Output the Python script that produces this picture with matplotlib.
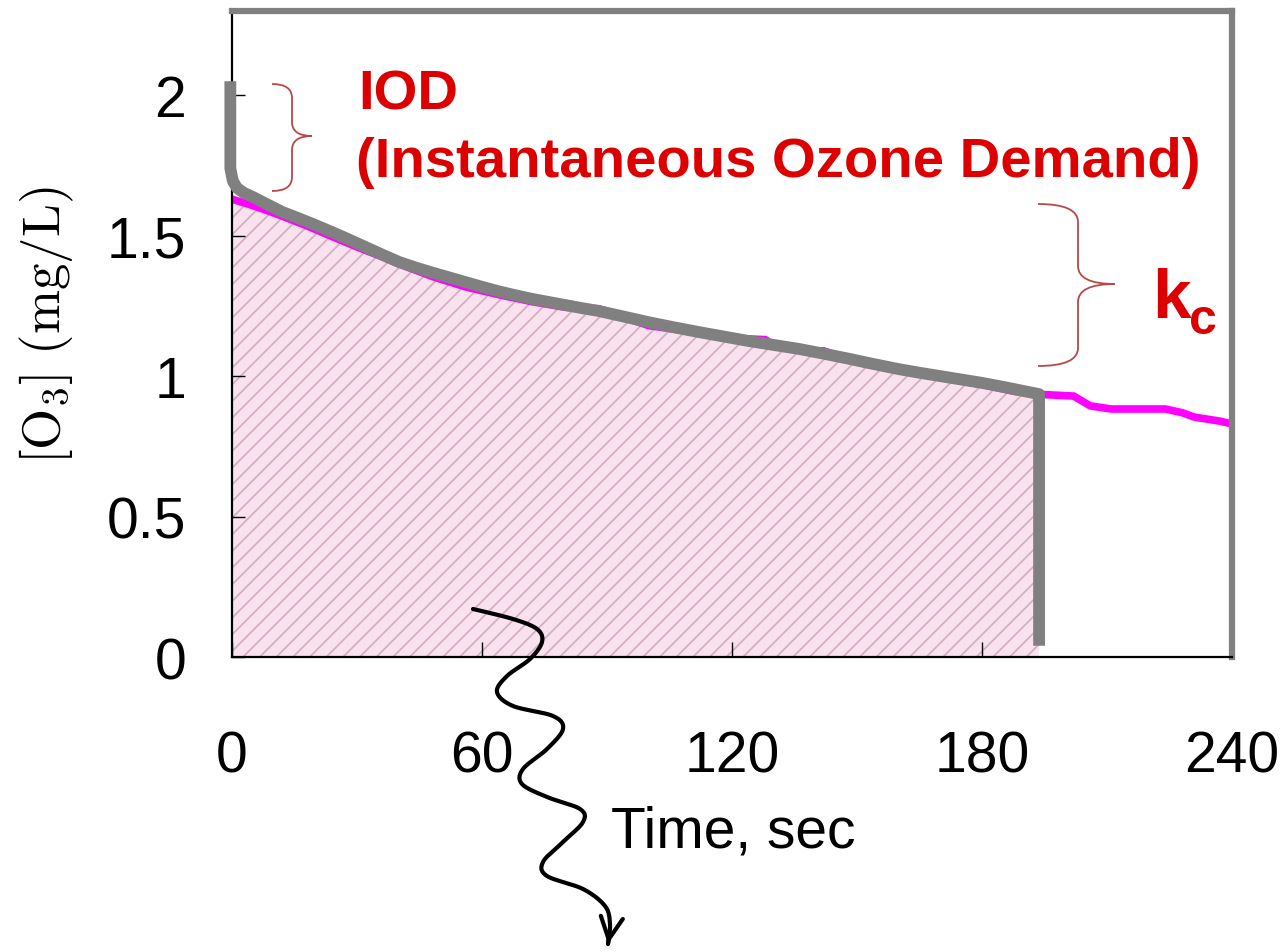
import numpy as np
import matplotlib
matplotlib.use('Agg')
import matplotlib.pyplot as plt
from matplotlib.path import Path
from matplotlib.patches import PathPatch, FancyArrowPatch
from matplotlib.lines import Line2D

W, H = 1281, 953

# ---------------- data ----------------
gray_t = [-0.4, -0.4, 0.2, 1.2, 2.8, 5, 8.4, 12, 16, 20, 24, 28, 32, 36, 40, 44, 48, 52,
          56, 60, 64, 68, 72, 76, 80, 84, 88, 94, 100, 106, 112, 118, 124, 130,
          136, 142, 148, 154, 160, 165, 170, 175, 180, 185, 190, 193.7, 193.7]
gray_y = [2.05, 1.74, 1.695, 1.67, 1.653, 1.638, 1.612, 1.585, 1.562, 1.538, 1.513,
          1.487, 1.46, 1.433, 1.407, 1.387, 1.369, 1.352, 1.335, 1.318, 1.302,
          1.288, 1.275, 1.264, 1.253, 1.242, 1.232, 1.212, 1.192, 1.174, 1.157,
          1.141, 1.125, 1.111, 1.097, 1.080, 1.062, 1.043, 1.025, 1.012, 1.0,
          0.988, 0.976, 0.962, 0.947, 0.936, 0.04]

mag_t = [0, 4, 8, 12, 18, 24, 30, 36, 40, 48, 56, 64, 72, 80, 88, 94, 100, 112,
         120, 128, 130, 140, 142, 150, 160, 170, 180, 188, 194, 198, 202, 206,
         211, 218, 224, 228, 231, 237, 240]
mag_y = [1.63, 1.612, 1.592, 1.57, 1.535, 1.497, 1.46, 1.425, 1.40, 1.355, 1.318,
         1.29, 1.265, 1.245, 1.24, 1.21, 1.18, 1.155, 1.135, 1.13, 1.11, 1.085,
         1.09, 1.05, 1.02, 0.995, 0.97, 0.945, 0.935, 0.932, 0.929, 0.894,
         0.883, 0.883, 0.883, 0.87, 0.854, 0.84, 0.83]
fill_end = 193.7

x_ticks = [0, 60, 120, 180, 240]
x_tick_labels = ['0', '60', '120', '180', '240']
y_ticks = [0, 0.5, 1, 1.5, 2]
y_tick_labels = ['0', '0.5', '1', '1.5', '2']

# annotation shapes (figure pixel coordinates, y downward)
squiggle_px = [(473, 610), (513, 620), (537, 630), (542, 643), (530, 660),
               (507, 677), (497, 693), (513, 707), (553, 717), (563, 730),
               (547, 750), (523, 770), (522, 785), (547, 798), (580, 810),
               (583, 823), (563, 843), (543, 863), (547, 877), (583, 890),
               (605, 907), (610, 925), (608, 945)]
brace_iod = dict(x_end=272, x_mid=292, x_tip=312, y_top=85, y_tip=137, y_bot=192, r=14)
brace_kc = dict(x_end=1038, x_mid=1078, x_tip=1115, y_top=205, y_tip=285, y_bot=367, r=18)

# ---------------- figure ----------------
plt.rcParams['hatch.linewidth'] = 1.3
sans = ['Liberation Sans', 'DejaVu Sans']
plt.rcParams['mathtext.fontset'] = 'cm'

fig = plt.figure(figsize=(W / 100, H / 100), dpi=100)
ax = fig.add_axes([232 / W, 1 - 658 / H, 1000 / W, 646 / H])
ax.set_xlim(0, 240)
ax.set_ylim(0, 2.3)

t_mag = np.array(mag_t)
y_mag = np.array(mag_y)
mask = t_mag <= fill_end
ft = np.append(t_mag[mask], fill_end)
fy = np.append(y_mag[mask], np.interp(fill_end, t_mag, y_mag))
ax.fill_between(ft, 0, fy, facecolor='#f9e2ee', edgecolor='#d4afc2',
                hatch='//', linewidth=0, zorder=1)
ax.plot(mag_t, mag_y, color='#ff00ff', lw=5.5, solid_joinstyle='miter', zorder=2)
ax.plot(gray_t, gray_y, color='#808080', lw=8.5, solid_joinstyle='round',
        solid_capstyle='butt', zorder=3, clip_on=False)

ax.set_xticks(x_ticks)
ax.set_xticklabels(x_tick_labels)
ax.set_yticks(y_ticks)
ax.set_yticklabels(y_tick_labels)
ax.tick_params(axis='x', direction='in', length=11, width=1, pad=52, labelsize=41)
ax.tick_params(axis='y', direction='in', length=9, width=1, pad=33, labelsize=41)
for lab in ax.get_xticklabels() + ax.get_yticklabels():
    lab.set_family(sans)

for s in ['left', 'bottom']:
    ax.spines[s].set_color('black')
    ax.spines[s].set_linewidth(1.6)
for s in ['top', 'right']:
    ax.spines[s].set_color('#808080')
    ax.spines[s].set_linewidth(4.5)


def px(x, y):
    return (x / W, 1 - y / H)


# axis titles
fig.text(*px(733, 833), 'Time, sec', family=sans, fontsize=41,
         ha='center', va='center')
fig.text(*px(47, 325), r'$[\mathrm{O_3}]\ (\mathrm{mg/L})$', fontsize=38,
         rotation=90, ha='center', va='center')

# red labels
red = '#dd0000'
fig.text(*px(358, 95), 'IOD', family=sans,
         fontweight='bold', fontsize=40.5, color=red, ha='left', va='center')
fig.text(*px(356, 163), '(Instantaneous Ozone Demand)', family=sans,
         fontweight='bold', fontsize=40.5, color=red, ha='left', va='center')
fig.text(*px(1152, 318), 'k', family=sans,
         fontweight='bold', fontsize=50, color=red, ha='left', va='baseline')
fig.text(*px(1189, 334), 'c', family=sans,
         fontweight='bold', fontsize=36, color=red, ha='left', va='baseline')


def brace(x_end, x_mid, x_tip, y_top, y_tip, y_bot, r):
    verts = [px(x_end, y_top), px(x_mid, y_top), px(x_mid, y_top + r),
             px(x_mid, y_tip - r), px(x_mid, y_tip), px(x_tip, y_tip),
             px(x_mid, y_tip), px(x_mid, y_tip + r),
             px(x_mid, y_bot - r), px(x_mid, y_bot), px(x_end, y_bot)]
    codes = [Path.MOVETO, Path.CURVE3, Path.CURVE3, Path.LINETO,
             Path.CURVE3, Path.CURVE3, Path.CURVE3, Path.CURVE3,
             Path.LINETO, Path.CURVE3, Path.CURVE3]
    patch = PathPatch(Path(verts, codes), transform=fig.transFigure,
                      facecolor='none', edgecolor='#b84848', lw=1.3)
    fig.add_artist(patch)


brace(**brace_iod)
brace(**brace_kc)


def catmull_rom(points, n=20):
    p = np.array(points, dtype=float)
    p = np.vstack([p[0], p, p[-1]])
    out = []
    for i in range(1, len(p) - 2):
        p0, p1, p2, p3 = p[i - 1], p[i], p[i + 1], p[i + 2]
        for s in np.linspace(0, 1, n, endpoint=False):
            s2, s3 = s * s, s * s * s
            out.append(0.5 * ((2 * p1) + (-p0 + p2) * s +
                              (2 * p0 - 5 * p1 + 4 * p2 - p3) * s2 +
                              (-p0 + 3 * p1 - 3 * p2 + p3) * s3))
    out.append(p[-2])
    return np.array(out)


sq = catmull_rom(squiggle_px)
fx = sq[:, 0] / W
fyy = 1 - sq[:, 1] / H
fig.add_artist(Line2D(fx, fyy, transform=fig.transFigure, color='black', lw=3,
                      solid_capstyle='round', solid_joinstyle='round'))
fig.add_artist(FancyArrowPatch(
    (fx[-6], fyy[-6]), (fx[-1], fyy[-1]), transform=fig.transFigure,
    arrowstyle='->,head_length=0.8,head_width=0.4', color='black', lw=3,
    mutation_scale=20))

fig.savefig('out.png', dpi=100)
